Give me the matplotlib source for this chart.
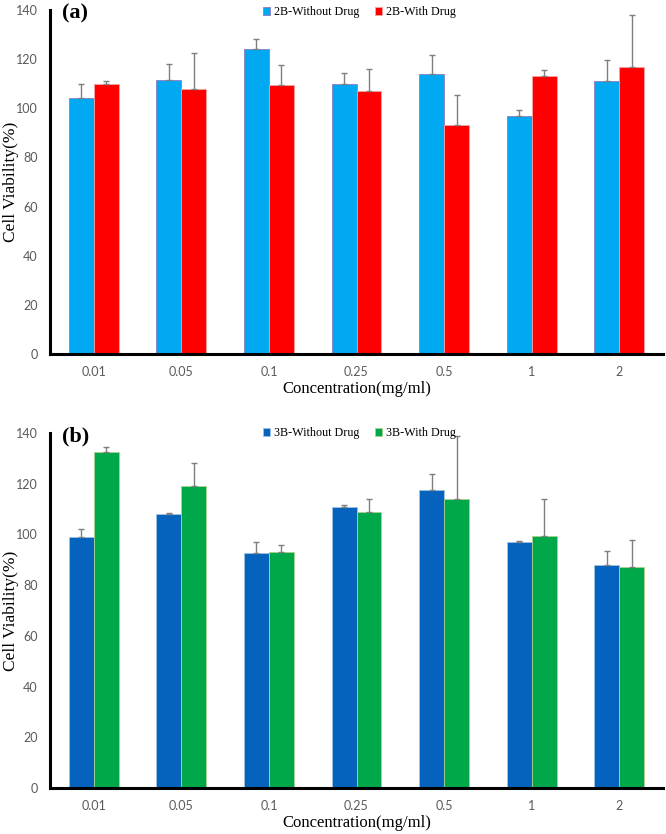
import matplotlib
matplotlib.use("Agg")
import matplotlib.pyplot as plt
import numpy as np

categories = ["0.01", "0.05", "0.1", "0.25", "0.5", "1", "2"]

a_without = [104, 111.5, 124, 110, 114, 97, 111]
a_without_err = [6, 6.5, 4, 4.5, 7.5, 2.5, 8.5]
a_with = [110, 108, 109.5, 107, 93, 113, 117]
a_with_err = [1.2, 14.5, 8, 9, 12.5, 2.5, 21]

b_without = [99, 108, 92.5, 111, 117.5, 97, 88]
b_without_err = [3, 0.5, 4.5, 0.5, 6.5, 0.5, 5.5]
b_with = [132.5, 119, 93, 109, 114, 99.5, 87]
b_with_err = [2, 9, 3, 5, 25, 14.5, 11]

yticks = [0, 20, 40, 60, 80, 100, 120, 140]

W, H = 666, 834
fig = plt.figure(figsize=(W / 100, H / 100), dpi=100)

serif = "Liberation Serif"
tickfont = "Lato"

def panel(rect, v1, e1, v2, e2, c1, c2, ec1, ec2, l1, l2, tag, legy):
    ax = fig.add_axes(rect)
    axw_px = rect[2] * W
    x = np.arange(len(categories))
    w = 0.285
    ax.bar(x - w/2, v1, w, color=c1, edgecolor=ec1, linewidth=0.6, label=l1, zorder=2)
    ax.bar(x + w/2, v2, w, color=c2, edgecolor=ec2, linewidth=0.6, label=l2, zorder=2)
    ax.errorbar(x - w/2, v1, yerr=[np.zeros(len(e1)), e1], fmt="none",
                ecolor="#7F7F7F", elinewidth=1.0, capsize=2.5, capthick=1.0, zorder=3)
    ax.errorbar(x + w/2, v2, yerr=[np.zeros(len(e2)), e2], fmt="none",
                ecolor="#7F7F7F", elinewidth=1.0, capsize=2.5, capthick=1.0, zorder=3)
    ax.set_xlim(-0.5, len(categories) - 0.5)
    ax.set_ylim(0, 140)
    ax.set_yticks(yticks)
    ax.set_xticks(x)
    ax.set_xticklabels(categories)
    for lab in ax.get_xticklabels() + ax.get_yticklabels():
        lab.set_fontfamily(tickfont)
        lab.set_fontsize(9)
        lab.set_color("#595959")
    ax.tick_params(axis="x", length=0, pad=9)
    ax.tick_params(axis="y", length=0, pad=9)
    for s in ["top", "right"]:
        ax.spines[s].set_visible(False)
    ax.spines["left"].set_linewidth(2.2)
    ax.spines["bottom"].set_linewidth(2.2)
    ax.set_ylabel("Cell Viability(%)", family=serif, fontsize=12.5)
    ax.yaxis.set_label_coords(-31 / axw_px, 0.5)
    ax.set_xlabel("Concentration(mg/ml)", family=serif, fontsize=12, labelpad=2)
    ax.text(12 / axw_px, 0.99, tag, transform=ax.transAxes, family=serif, fontsize=16,
            fontweight="bold", va="center", ha="left")
    ax.legend(loc="center", bbox_to_anchor=(0.505, legy), ncol=2, frameon=False,
              prop={"family": serif, "size": 8.7}, handlelength=0.6, handleheight=0.6,
              handletextpad=0.3, columnspacing=1.3, borderpad=0)
    return ax

panel([50/W, 480/H, 613/W, 344/H], a_without, a_without_err, a_with, a_with_err,
      "#00A9F1", "#FF0000", "#8E7CC3", "#F4A6A6",
      "2B-Without Drug", "2B-With Drug", "(a)", 0.993)
panel([50/W, 46/H, 613/W, 355/H], b_without, b_without_err, b_with, b_with_err,
      "#0563BE", "#00A84A", "#9DC3E6", "#A9D18E",
      "3B-Without Drug", "3B-With Drug", "(b)", 1.0)

fig.savefig("out.png", dpi=100)
